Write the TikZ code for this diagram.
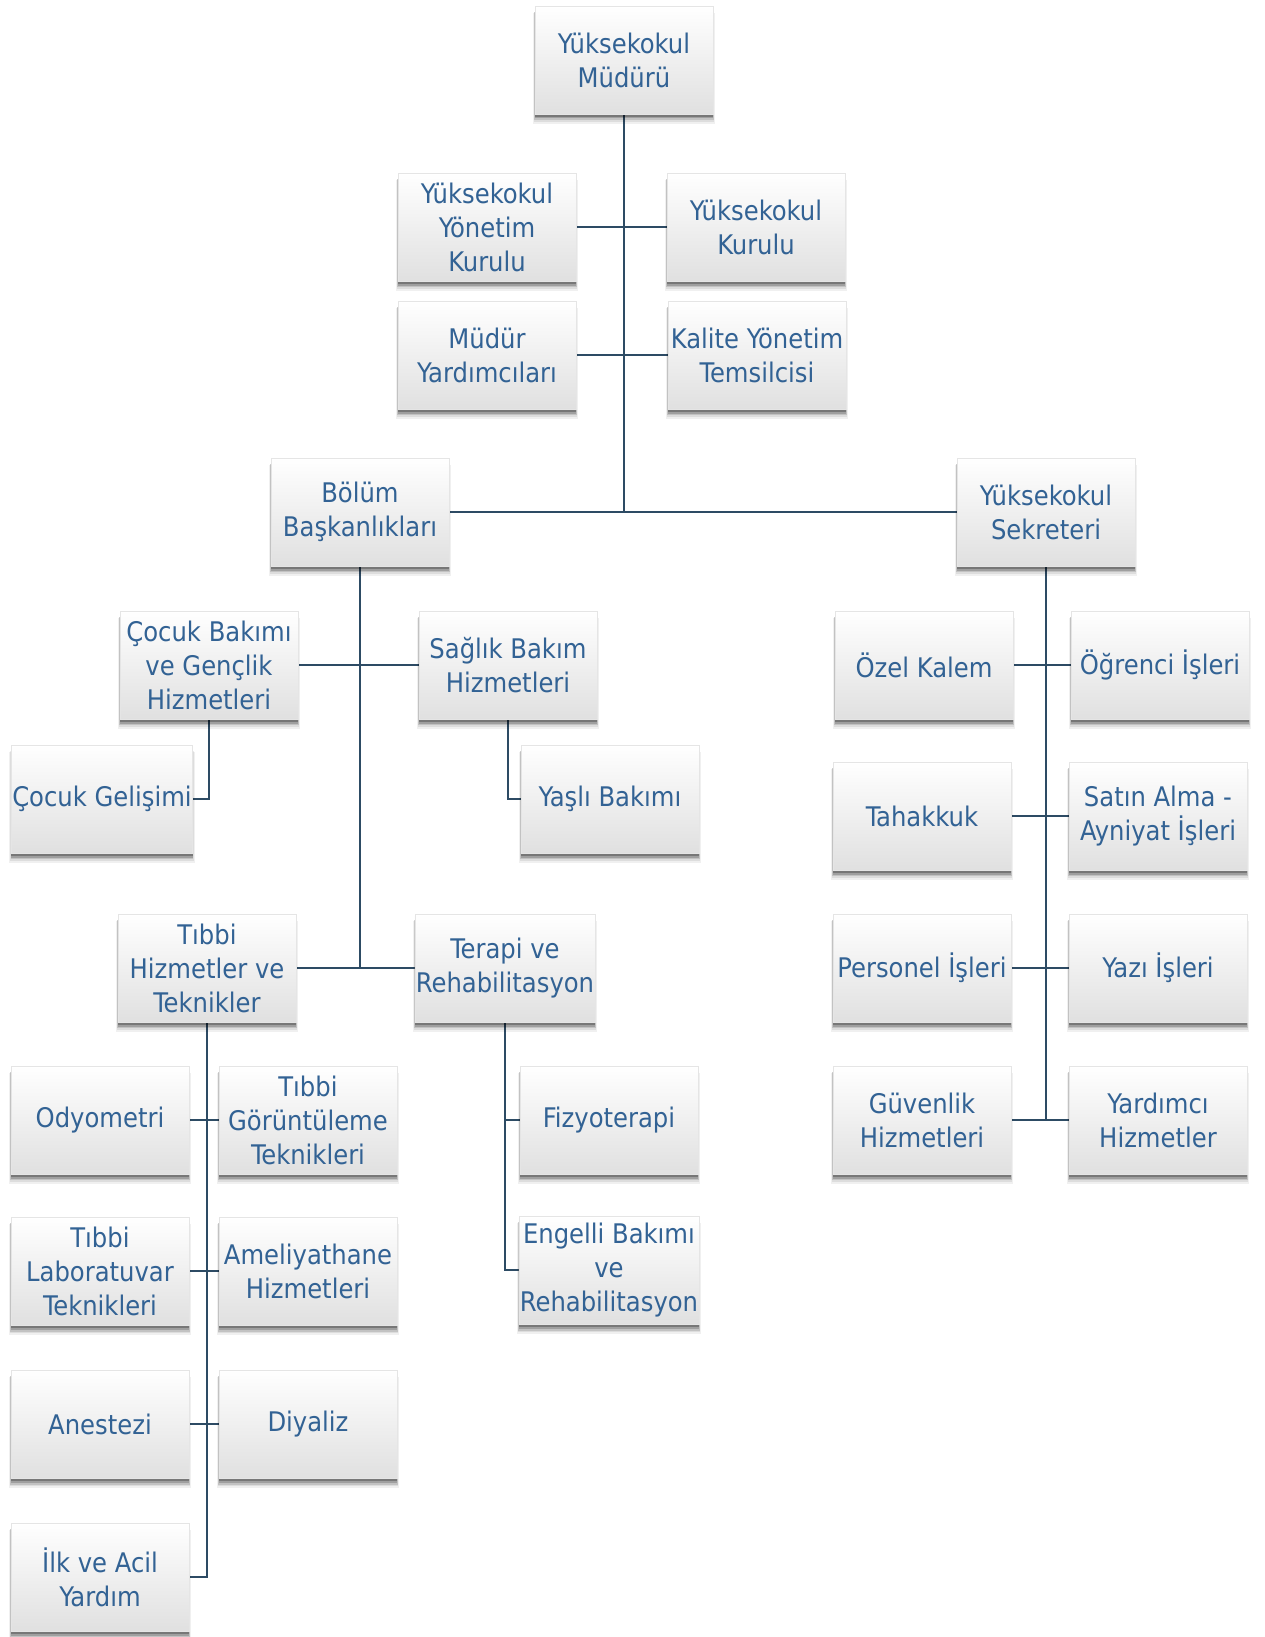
\documentclass[tikz,border=0pt]{standalone}
\usepackage{fontspec}
\setmainfont{DejaVu Sans Condensed}
\usetikzlibrary{shadows,backgrounds}
\definecolor{txtblue}{RGB}{50,98,148}
\definecolor{linec}{RGB}{45,75,100}
\definecolor{boxbot}{RGB}{224,224,224}
\tikzset{
  box/.style={rectangle, draw=gray!20, line width=0.6pt, top color=white, bottom color=boxbot,
    minimum width=178pt, minimum height=108pt, align=center, text=txtblue, inner sep=1pt,
    font=\fontsize{27}{34}\selectfont,
    general shadow={shadow xshift=0pt, shadow yshift=-8pt, shadow scale=1.025, opacity=0.06, fill=black},
    general shadow={shadow xshift=0pt, shadow yshift=-7pt, shadow scale=1.015, opacity=0.08, fill=black},
    general shadow={shadow xshift=0pt, shadow yshift=-6pt, shadow scale=1.008, opacity=0.12, fill=black},
    general shadow={shadow xshift=0pt, shadow yshift=-4.5pt, opacity=0.18, fill=black},
    general shadow={shadow xshift=0pt, shadow yshift=-3pt, opacity=0.25, fill=black}},
  conn/.style={draw=linec, line width=1.6pt}
}
\begin{document}
\begin{tikzpicture}[x=1pt,y=-1pt]
\useasboundingbox (0,0) rectangle (1264,1637);
% top
\node[box] (mud) at (624,60) {Yüksekokul\\Müdürü};
\node[box] (ykyk) at (487,227) {Yüksekokul\\Yönetim\\Kurulu};
\node[box] (ykk) at (756,227) {Yüksekokul\\Kurulu};
\node[box] (mya) at (487,355) {Müdür\\Yardımcıları};
\node[box] (kyt) at (757,355) {Kalite Yönetim\\Temsilcisi};
\node[box] (bol) at (360,512) {Bölüm\\Başkanlıkları};
\node[box] (sek) at (1046,512) {Yüksekokul\\Sekreteri};
% left subtree
\node[box] (cbg) at (209,665) {Çocuk Bakımı\\ve Gençlik\\Hizmetleri};
\node[box] (sbh) at (508,665) {Sağlık Bakım\\Hizmetleri};
\node[box] (cg) at (102,799) {Çocuk Gelişimi};
\node[box] (yb) at (610,799) {Yaşlı Bakımı};
\node[box] (thv) at (207,968) {Tıbbi\\Hizmetler ve\\Teknikler};
\node[box] (trb) at (505,968) {Terapi ve\\Rehabilitasyon};
\node[box] (ody) at (100,1120) {Odyometri};
\node[box] (tgt) at (308,1120) {Tıbbi\\Görüntüleme\\Teknikleri};
\node[box] (tlt) at (100,1271) {Tıbbi\\Laboratuvar\\Teknikleri};
\node[box] (amh) at (308,1271) {Ameliyathane\\Hizmetleri};
\node[box] (ane) at (100,1424) {Anestezi};
\node[box] (diy) at (308,1424) {Diyaliz};
\node[box] (iay) at (100,1577) {İlk ve Acil\\Yardım};
\node[box] (fiz) at (609,1120) {Fizyoterapi};
\node[box] (ebr) at (609,1270) {Engelli Bakımı\\ve\\Rehabilitasyon};
% right subtree
\node[box] (ozk) at (924,665) {Özel Kalem};
\node[box] (ogr) at (1160,665) {Öğrenci İşleri};
\node[box] (tah) at (922,816) {Tahakkuk};
\node[box] (sat) at (1158,816) {Satın Alma -\\Ayniyat İşleri};
\node[box] (per) at (922,968) {Personel İşleri};
\node[box] (yaz) at (1158,968) {Yazı İşleri};
\node[box] (guv) at (922,1120) {Güvenlik\\Hizmetleri};
\node[box] (yrd) at (1158,1120) {Yardımcı\\Hizmetler};
\begin{scope}[on background layer]
\fill[white] (0,0) rectangle (1264,1637);
\draw[conn] (mud.south) -- (mud.south |- bol.east);
\draw[conn] (bol.east) -- (sek.west);
\draw[conn] (ykyk.east) -- (ykk.west);
\draw[conn] (mya.east) -- (kyt.west);
\draw[conn] (bol.south) -- (bol.south |- thv.east);
\draw[conn] (cbg.east) -- (sbh.west);
\draw[conn] (thv.east) -- (trb.west);
\draw[conn] (cbg.south) -- (cbg.south |- cg.east) -- (cg.east);
\draw[conn] (sbh.south) -- (sbh.south |- yb.west) -- (yb.west);
\draw[conn] (thv.south) -- (thv.south |- iay.east) -- (iay.east);
\draw[conn] (ody.east) -- (tgt.west);
\draw[conn] (tlt.east) -- (amh.west);
\draw[conn] (ane.east) -- (diy.west);
\draw[conn] (trb.south) -- (trb.south |- ebr.west) -- (ebr.west);
\draw[conn] (trb.south |- fiz.west) -- (fiz.west);
\draw[conn] (sek.south) -- (sek.south |- guv.east);
\draw[conn] (ozk.east) -- (ogr.west);
\draw[conn] (tah.east) -- (sat.west);
\draw[conn] (per.east) -- (yaz.west);
\draw[conn] (guv.east) -- (yrd.west);
\end{scope}
\end{tikzpicture}
\end{document}
